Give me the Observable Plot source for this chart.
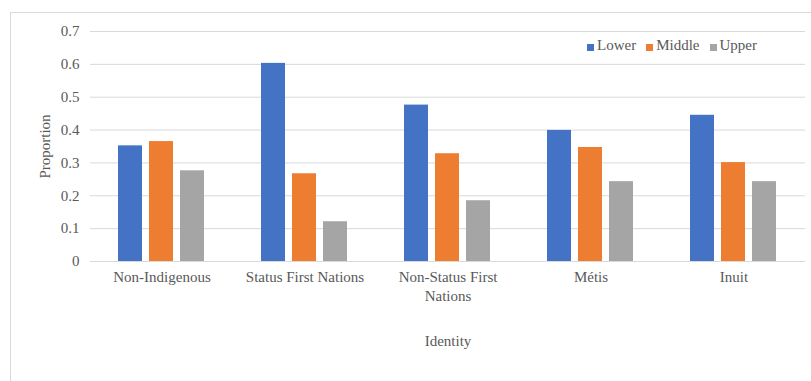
<!DOCTYPE html>
<html>
<head>
<meta charset="utf-8">
<script src="https://cdn.jsdelivr.net/npm/d3@7"></script>
<script src="https://cdn.jsdelivr.net/npm/@observablehq/plot@0.6"></script>
<style>
  body { margin: 0; background: #fff; font-family: "Liberation Serif", "Times New Roman", serif; }
  #wrap { position: relative; width: 811px; height: 381px; overflow: hidden; }
  #frame { position: absolute; left: 10px; top: 12px; width: 900px; height: 500px; border: 1px solid #d9d9d9; box-sizing: border-box; }
  #chart { position: absolute; left: 0; top: 0; }
  #legend { position: absolute; left: 587px; top: 37px; display: flex; align-items: center; font-family: "Liberation Serif", "Times New Roman", serif; font-size: 15px; color: #595959; white-space: nowrap; }
  #legend .item { display: flex; align-items: center; margin-right: 10px; }
  #legend .sw { width: 7px; height: 7px; margin-right: 3px; margin-top: 3px; }
</style>
</head>
<body>
<div id="wrap">
  <div id="frame"></div>
  <div id="chart"></div>
  <div id="legend"></div>
</div>
<script>
const identities = ["Non-Indigenous", "Status First Nations", "Non-Status First Nations", "Métis", "Inuit"];
const classes = ["Lower", "Middle", "Upper"];
const lower  = [0.352, 0.603, 0.476, 0.399, 0.445];
const middle = [0.365, 0.267, 0.328, 0.347, 0.301];
const upper  = [0.276, 0.121, 0.185, 0.243, 0.243];
const colors = ["#4472C4", "#ED7D31", "#A5A5A5"];
const yTicks = [0, 0.1, 0.2, 0.3, 0.4, 0.5, 0.6, 0.7];

const series = [lower, middle, upper];
const data = [];
identities.forEach((id, i) => {
  classes.forEach((c, j) => data.push({identity: id, cls: c, value: series[j][i]}));
});

const chart = Plot.plot({
  width: 811,
  height: 381,
  marginLeft: 88,
  marginRight: 5,
  marginTop: 31,
  marginBottom: 120,
  style: { fontFamily: "'Liberation Serif', 'Times New Roman', serif", fontSize: "15px", color: "#595959", background: "transparent" },
  fx: { domain: identities, padding: 0 },
  x: { domain: classes, paddingInner: 0.22, paddingOuter: 0.855, axis: null },
  y: { domain: [0, 0.7] },
  color: { domain: classes, range: colors },
  marks: [
    Plot.gridY(yTicks, { stroke: "#d9d9d9", strokeOpacity: 1 }),
    Plot.barY(data, { fx: "identity", x: "cls", y: "value", fill: "cls" }),
    Plot.axisY(yTicks, {
      tickSize: 0, tickPadding: 11, label: "Proportion", labelAnchor: "center", labelOffset: 51, labelArrow: "none",
      tickFormat: d => d === 0 ? "0" : d.toFixed(1), fill: "#595959"
    }),
    Plot.axisFx({
      anchor: "bottom", tickSize: 0, tickPadding: 7, lineHeight: 1.25, label: "Identity", labelAnchor: "center", labelOffset: 84, labelArrow: "none", fill: "#595959",
      tickFormat: d => d === "Non-Status First Nations" ? "Non-Status First\nNations" : d
    })
  ]
});
document.getElementById("chart").appendChild(chart);

const legend = document.getElementById("legend");
classes.forEach((c, j) => {
  const item = document.createElement("div");
  item.className = "item";
  const sw = document.createElement("span");
  sw.className = "sw";
  sw.style.background = colors[j];
  const t = document.createElement("span");
  t.textContent = c;
  item.appendChild(sw);
  item.appendChild(t);
  legend.appendChild(item);
});
</script>
</body>
</html>
